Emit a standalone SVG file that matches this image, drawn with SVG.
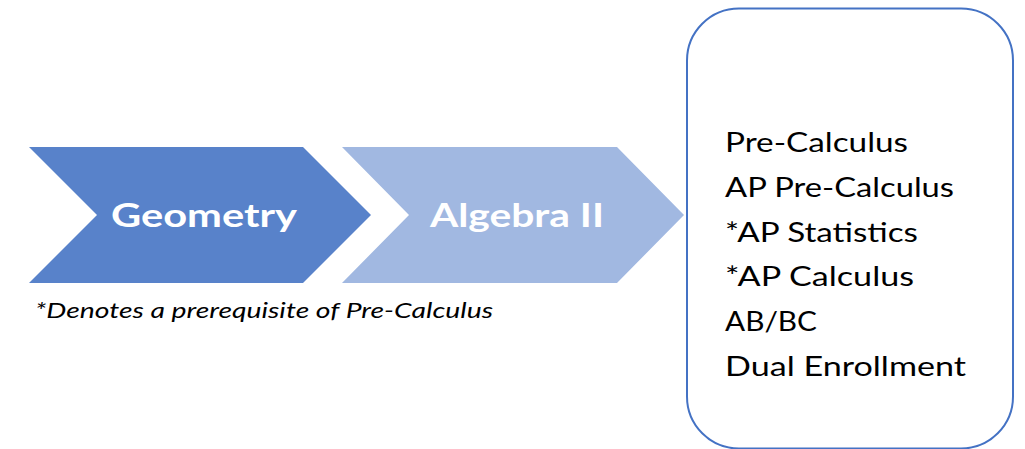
<svg xmlns="http://www.w3.org/2000/svg" width="1025" height="449" viewBox="0 0 1025 449">
<style>
.lbl{font-family:Lato,"Open Sans","Liberation Sans",sans-serif;font-weight:bold;font-size:33px;fill:#ffffff}
.item{font-family:Lato,"Open Sans","Liberation Sans",sans-serif;font-size:27px;fill:#000000}
.note{font-family:Lato,"Open Sans","Liberation Sans",sans-serif;font-style:italic;font-size:21px;fill:#000000}
</style>
<rect width="1025" height="449" fill="#ffffff"/>
<g id="geometry">
<polygon points="29,147 303,147 371,215 303,283 29,283 97,215" fill="#5882CA"/>
<text class="lbl" x="111" y="227" textLength="186" lengthAdjust="spacingAndGlyphs">Geometry</text>
</g>
<g id="algebra2">
<polygon points="342,147 617,147 684,215 617,283 342,283 409,215" fill="#A1B8E1"/>
<text class="lbl" x="430" y="227" textLength="174" lengthAdjust="spacingAndGlyphs">Algebra II</text>
</g>
<g id="note">
<text class="note" x="35" y="318" textLength="458" lengthAdjust="spacingAndGlyphs">*Denotes a prerequisite of Pre-Calculus</text>
</g>
<g id="courses">
<rect x="687" y="8.5" width="326" height="440" rx="52" ry="52" fill="#ffffff" stroke="#4472C4" stroke-width="2"/>
<text class="item" x="725" y="152" textLength="183" lengthAdjust="spacingAndGlyphs">Pre-Calculus</text>
<text class="item" x="725" y="197" textLength="229" lengthAdjust="spacingAndGlyphs">AP Pre-Calculus</text>
<text class="item" x="725" y="242" textLength="193" lengthAdjust="spacingAndGlyphs">*AP Statistics</text>
<text class="item" x="725" y="286" textLength="189" lengthAdjust="spacingAndGlyphs">*AP Calculus</text>
<text class="item" x="725" y="331" textLength="92" lengthAdjust="spacingAndGlyphs">AB/BC</text>
<text class="item" x="725" y="376" textLength="241" lengthAdjust="spacingAndGlyphs">Dual Enrollment</text>
</g>
<g id="connectors"></g>
</svg>
